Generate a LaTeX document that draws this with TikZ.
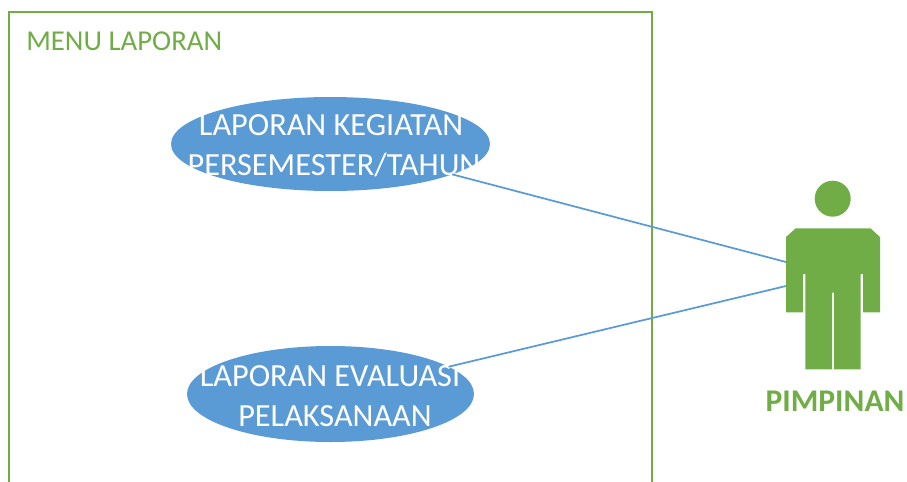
\documentclass[tikz,border=0pt]{standalone}
\usepackage{fontspec}
\setmainfont{Carlito}
\usetikzlibrary{shapes.geometric}
\definecolor{grn}{HTML}{70AD47}
\definecolor{blu}{HTML}{5B9BD5}
\tikzset{
  uc/.style={ellipse,fill=blu,draw=none,inner sep=0pt,outer sep=0pt},
  uctext/.style={text=white,font=\fontsize{24.2}{30}\selectfont,inner sep=0pt,anchor=center},
  link/.style={draw=blu,line width=1.3pt},
  actorshape/.style={fill=grn,draw=none}
}
\begin{document}
\begin{tikzpicture}[x=0.75pt,y=-0.75pt]
\useasboundingbox (0,0) rectangle (907,482);
\clip (0,0) rectangle (907,482);
% system boundary
\coordinate (frameTL) at (9,12);
\coordinate (frameBR) at (652,500);
\draw[grn,line width=1.4pt] (frameTL) rectangle (frameBR);
\node[text=grn,font=\fontsize{21.6}{26}\selectfont,anchor=west,inner sep=0pt] (title) at (26,41) {MENU LAPORAN};
% actor
\node[actorshape,circle,minimum size=27pt,inner sep=0pt] (head) at (832.7,198.7) {};
\fill[grn] (795.7,228.3) -- (870.5,228.3) -- (880,237) -- (880,312.3) -- (863,312.3) -- (863,274) -- (860.7,274)
  -- (860.7,369.3) -- (834,369.3) -- (834,292.7) -- (832,292.7) -- (832,369.3) -- (805.3,369.3) -- (805.3,274)
  -- (803,274) -- (803,312.3) -- (786,312.3) -- (786,237) -- cycle;
\coordinate (actorA) at (786,262);
\coordinate (actorB) at (786,286);
\node[text=grn,font=\fontsize{23.7}{28}\selectfont\bfseries,inner sep=0pt] (actorlabel) at (835,401) {PIMPINAN};
% use cases
\node[uc,minimum width=239.25pt,minimum height=70.5pt] (e1) at (330.5,144) {};
\node[uc,minimum width=215.25pt,minimum height=72pt] (e2) at (330.5,394) {};
\node[uctext] (t1a) at (331,125) {LAPORAN KEGIATAN};
\node[uctext] (t1b) at (334,165) {PERSEMESTER/TAHUN};
\node[uctext] (t2a) at (330,376) {LAPORAN EVALUASI};
\node[uctext] (t2b) at (335,416) {PELAKSANAAN};
% connectors
\draw[link] (e1.-14.3) -- (actorA);
\draw[link] (e2.13.5) -- (actorB);
\end{tikzpicture}
\end{document}
